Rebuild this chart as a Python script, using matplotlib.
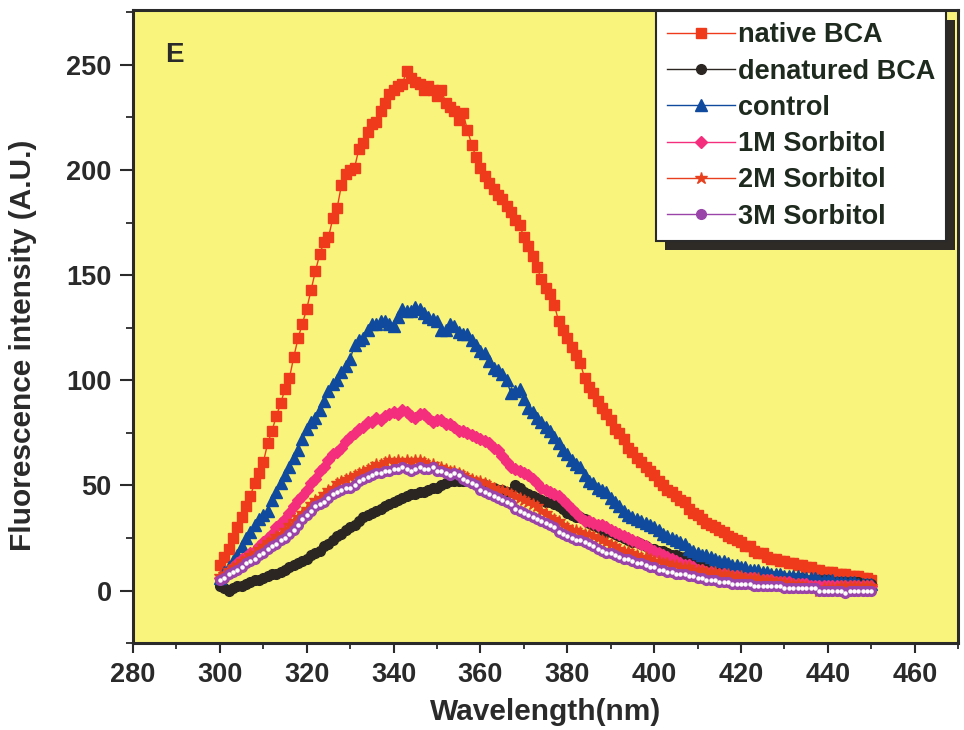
import matplotlib
matplotlib.use("Agg")
import matplotlib.pyplot as plt
from matplotlib.patches import Rectangle
from matplotlib.transforms import IdentityTransform
from matplotlib.ticker import MultipleLocator
import numpy as np

plt.rcParams['font.family'] = ['Liberation Sans', 'DejaVu Sans']
plt.rcParams['font.weight'] = 'bold'

wavelength = np.arange(300, 451)

native = [12, 16, 20, 25, 30, 35, 40, 45, 51, 56,
          61, 70, 76, 83, 89, 96, 101, 111, 120, 127,
          134, 143, 152, 160, 166, 168, 177, 182, 193, 198,
          200, 201, 210, 213, 218, 222, 223, 228, 232, 236,
          238, 240, 241, 247, 244, 242, 241, 238, 240, 238,
          235, 238, 232, 230, 228, 224, 227, 219, 212, 206,
          201, 197, 194, 191, 188, 186, 183, 180, 176, 174,
          168, 164, 159, 154, 148, 144, 141, 136, 128, 124,
          120, 116, 112, 108, 101, 97, 94, 90, 87, 84,
          81, 77, 75, 72, 68, 66, 63, 61, 59, 57,
          55, 52, 50, 48, 47, 45, 43, 42, 39, 37,
          36, 34, 32, 31, 30, 29, 28, 26, 25, 24,
          23, 21, 21, 19, 18, 18, 16, 15, 15, 14,
          14, 13, 13, 12, 12, 11, 11, 10, 10, 9,
          9, 9, 8, 8, 8, 7, 7, 7, 6, 6, 5]

denatured = [2, 1, 0, 1, 2, 2, 3, 4, 5, 5,
             6, 7, 8, 8, 9, 10, 11, 12, 13, 14,
             15, 17, 18, 19, 21, 22, 24, 26, 27, 29,
             30, 31, 33, 35, 36, 37, 38, 39, 40, 41,
             42, 43, 44, 45, 46, 46, 47, 47, 48, 49,
             49, 50, 51, 52, 52, 52, 52, 52, 51, 51,
             50, 50, 49, 49, 48, 48, 47, 47, 50, 49,
             47, 46, 45, 44, 43, 42, 42, 41, 40, 39,
             37, 36, 35, 35, 34, 32, 31, 30, 29, 28,
             28, 27, 26, 25, 24, 23, 23, 22, 21, 20,
             20, 19, 19, 18, 17, 17, 16, 16, 15, 14,
             14, 13, 13, 12, 12, 11, 11, 11, 10, 10,
             9, 9, 9, 8, 8, 8, 7, 7, 7, 7,
             6, 6, 6, 6, 6, 5, 5, 5, 5, 5,
             5, 4, 4, 4, 4, 4, 4, 4, 3, 3, 3]

control = [6, 9, 11, 14, 17, 21, 25, 28, 31, 34,
           36, 38, 43, 47, 51, 55, 59, 63, 67, 72,
           77, 80, 82, 86, 90, 95, 98, 100, 104, 107,
           110, 117, 119, 120, 124, 127, 127, 128, 128, 127,
           126, 130, 134, 133, 133, 135, 134, 132, 130, 129,
           128, 124, 124, 127, 126, 123, 122, 122, 119, 117,
           114, 113, 109, 106, 105, 103, 100, 94, 95, 96,
           91, 87, 85, 82, 80, 78, 76, 73, 70, 67,
           65, 62, 60, 59, 55, 52, 51, 49, 48, 47,
           44, 42, 40, 38, 36, 35, 34, 33, 32, 31,
           30, 29, 27, 26, 25, 24, 23, 22, 20, 19,
           18, 17, 17, 16, 15, 14, 14, 13, 12, 12,
           11, 11, 10, 10, 10, 9, 9, 8, 8, 8,
           7, 7, 7, 7, 6, 6, 6, 6, 5, 5,
           5, 5, 4, 4, 4, 4, 4, 3, 3, 3, 3]

sorb_1m = [6, 7, 9, 11, 13, 15, 16, 18, 19, 21,
           23, 25, 27, 30, 32, 34, 37, 40, 43, 45,
           48, 51, 53, 57, 59, 62, 65, 66, 68, 71,
           73, 75, 77, 78, 80, 80, 82, 81, 83, 84,
           85, 84, 86, 85, 83, 82, 84, 84, 82, 80,
           81, 81, 79, 79, 78, 76, 76, 75, 74, 73,
           72, 71, 70, 68, 67, 64, 61, 59, 58, 57,
           56, 55, 53, 51, 49, 48, 47, 46, 45, 43,
           41, 39, 37, 35, 33, 33, 32, 31, 31, 30,
           29, 28, 27, 26, 25, 24, 23, 22, 21, 20,
           19, 18, 17, 16, 15, 14, 13, 12, 12, 11,
           10, 10, 9, 9, 8, 8, 8, 7, 7, 7,
           6, 6, 6, 6, 5, 5, 5, 5, 4, 4,
           4, 4, 3, 3, 3, 3, 2, 2, 2, 2,
           2, 2, 2, 2, 2, 2, 2, 2, 2, 2, 2]

sorb_2m = [7, 8, 10, 11, 12, 14, 15, 17, 18, 20,
           21, 23, 24, 26, 27, 29, 31, 33, 35, 37,
           39, 41, 43, 44, 46, 48, 49, 51, 52, 53,
           54, 55, 56, 57, 58, 59, 60, 60, 61, 62,
           61, 62, 61, 62, 61, 62, 62, 61, 60, 60,
           59, 59, 58, 57, 57, 56, 55, 54, 53, 52,
           52, 51, 50, 49, 48, 48, 47, 46, 45, 44,
           43, 42, 41, 40, 38, 37, 35, 34, 33, 31,
           30, 29, 29, 28, 27, 27, 26, 25, 24, 23,
           22, 21, 20, 19, 19, 18, 17, 16, 16, 15,
           14, 14, 13, 13, 12, 12, 11, 11, 11, 10,
           10, 10, 9, 9, 9, 8, 8, 8, 7, 7,
           7, 6, 6, 6, 6, 5, 5, 5, 4, 4,
           4, 3, 3, 3, 2, 2, 1, 1, 0, 1,
           1, 1, 1, 2, 2, 2, 2, 2, 2, 2, 2]

sorb_3m = [5, 6, 8, 9, 10, 11, 13, 14, 15, 17,
           18, 20, 21, 22, 24, 25, 27, 29, 31, 34,
           36, 38, 40, 41, 42, 44, 46, 47, 48, 49,
           49, 50, 52, 53, 54, 55, 56, 56, 57, 57,
           58, 58, 59, 58, 57, 58, 59, 58, 58, 59,
           57, 57, 56, 55, 56, 55, 53, 52, 51, 50,
           48, 47, 46, 45, 44, 43, 42, 41, 39, 38,
           37, 36, 35, 34, 33, 32, 31, 30, 28, 27,
           26, 25, 24, 24, 23, 22, 21, 20, 19, 18,
           18, 17, 16, 15, 15, 14, 13, 13, 12, 11,
           11, 10, 10, 9, 9, 8, 8, 8, 7, 7,
           6, 6, 5, 5, 5, 4, 4, 4, 3, 3,
           3, 3, 3, 2, 2, 2, 2, 2, 2, 2,
           1, 1, 1, 1, 1, 1, 1, 1, 0, 0,
           0, 0, 0, 0, -1, 0, 0, 0, 0, 0, 0]

labels = ['native BCA', 'denatured BCA', 'control',
          '1M Sorbitol', '2M Sorbitol', '3M Sorbitol']

ink = '#2a2a2a'

fig = plt.figure(figsize=(9.64, 7.3), dpi=100)
ax = fig.add_axes([0.138, 0.119, 0.856, 0.867])
ax.set_facecolor('#f8f47c')

lw = 1.0
h1, = ax.plot(wavelength, native, color='#f03a1c', lw=lw, marker='s', ms=7, mec='#f03a1c')
h2, = ax.plot(wavelength, denatured, color='#2b2622', lw=lw, marker='o', ms=7, mec='#2b2622')
h3, = ax.plot(wavelength, control, color='#0f4a9e', lw=lw, marker='^', ms=8, mec='#0f4a9e')
h4, = ax.plot(wavelength, sorb_1m, color='#f42e7c', lw=lw, marker='D', ms=6.5, mec='#f42e7c')
h5, = ax.plot(wavelength, sorb_2m, color='#e8401e', lw=lw, marker='*', ms=9, mec='#e8401e')
h6, = ax.plot(wavelength, sorb_3m, color='#9a44aa', lw=lw, marker='o', ms=7, mec='#9a44aa')
ax.plot(wavelength, sorb_3m, ls='none', marker='o', ms=2.2, color='white', mec='white')

ax.set_xlim(280, 470)
ax.set_ylim(-25, 276)
ax.xaxis.set_major_locator(MultipleLocator(20))
ax.xaxis.set_minor_locator(MultipleLocator(10))
ax.yaxis.set_major_locator(MultipleLocator(50))
ax.yaxis.set_minor_locator(MultipleLocator(25))
ax.tick_params(which='major', direction='out', width=1.5,
               labelsize=19.5, colors=ink, pad=6)
ax.tick_params(axis='x', which='major', length=7.5)
ax.tick_params(axis='y', which='major', length=9.5)
ax.tick_params(axis='x', which='minor', direction='out', length=4, width=1.3, colors=ink)
ax.tick_params(axis='y', which='minor', direction='out', length=5, width=1.3, colors=ink)
for s in ax.spines.values():
    s.set_linewidth(2.2)
    s.set_color(ink)

ax.set_xlabel('Wavelength(nm)', fontsize=21.5, fontweight='bold', color=ink)
ax.xaxis.set_label_coords(0.5, -0.086)
ax.set_ylabel('Fluorescence intensity (A.U.)', fontsize=21.5, fontweight='bold', color=ink)
ax.yaxis.set_label_coords(-0.116, 0.47)
ax.text(0.039, 0.929, 'E', transform=ax.transAxes, fontsize=20, fontweight='bold',
        color=ink, va='center', ha='left')

leg = ax.legend([h1, h2, h3, h4, h5, h6], labels,
                loc='upper right', bbox_to_anchor=(0.985, 0.998),
                fontsize=19.5, frameon=True, fancybox=False, framealpha=1,
                edgecolor=ink, handlelength=2.5, handletextpad=0.1,
                labelspacing=0.38, borderpad=0.4, borderaxespad=0.0)
leg.get_frame().set_linewidth(1.5)
for t in leg.get_texts():
    t.set_color('#1f2a1f')
    t.set_fontweight('bold')

fig.canvas.draw()
bb = leg.get_window_extent()
shadow = Rectangle((bb.x0 + 9, bb.y0 - 9), bb.width, bb.height, transform=IdentityTransform(),
                   facecolor='#2e2a26', edgecolor='none', zorder=leg.get_zorder() - 0.5)
ax.add_artist(shadow)

fig.savefig('out.png', dpi=100)
